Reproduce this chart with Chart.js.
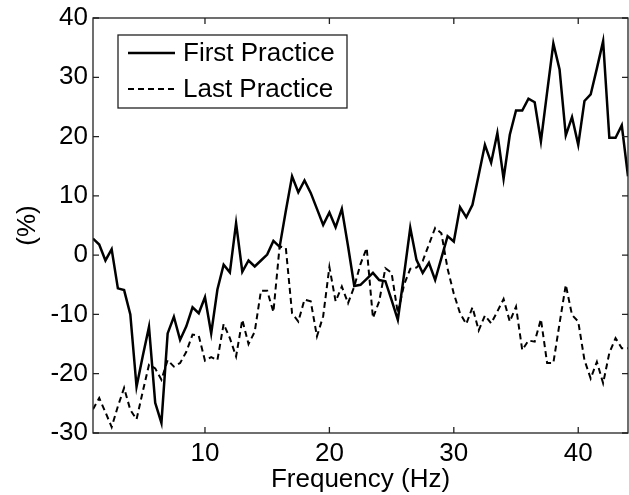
<!DOCTYPE html>
<html>
<head>
<meta charset="utf-8">
<script src="https://cdn.jsdelivr.net/npm/chart.js@4.4.0/dist/chart.umd.min.js"></script>
<style>
  html, body { margin: 0; padding: 0; background: #fff; }
  #wrap { width: 629px; height: 495px; }
</style>
</head>
<body>
<div id="wrap"><canvas id="freqChart" width="629" height="495"></canvas></div>
<script>
// ===== Data =====
const freq = [1, 1.5, 2, 2.5, 3, 3.5, 4, 4.5, 5, 5.5, 6, 6.5, 7, 7.5, 8, 8.5, 9, 9.5, 10, 10.5,
  11, 11.5, 12, 12.5, 13, 13.5, 14, 14.5, 15, 15.5, 16, 16.5, 17, 17.5, 18, 18.5, 19, 19.5, 20, 20.5,
  21, 21.5, 22, 22.5, 23, 23.5, 24, 24.5, 25, 25.5, 26, 26.5, 27, 27.5, 28, 28.5, 29, 29.5, 30, 30.5,
  31, 31.5, 32, 32.5, 33, 33.5, 34, 34.5, 35, 35.5, 36, 36.5, 37, 37.5, 38, 38.5, 39, 39.5, 40, 40.5,
  41, 41.5, 42, 42.5, 43, 43.5, 44];

const firstPractice = [2.8, 1.8, -0.9, 1.0, -5.6, -5.9, -10.0, -22.2, -17.0, -12.1, -24.9, -28.3, -13.2, -10.4, -14.3, -12.0, -8.8, -9.8, -7.1, -13.2,
  -5.8, -1.6, -2.9, 5.4, -2.8, -0.9, -1.9, -0.9, 0.1, 2.4, 1.4, 7.5, 13.3, 10.6, 12.6, 10.5, 7.8, 5.1, 7.2, 4.7,
  7.8, 1.5, -5.2, -5.0, -4.0, -3.0, -4.2, -4.4, -7.6, -10.9, -3.3, 4.6, -0.8, -3.0, -1.3, -4.2, -0.5, 3.2, 2.3, 8.1,
  6.4, 8.5, 13.5, 18.6, 15.6, 20.6, 12.9, 20.3, 24.4, 24.4, 26.4, 25.8, 19.2, 27.5, 35.7, 31.3, 20.2, 23.3, 18.6, 26.0,
  27.1, 31.5, 36.1, 19.8, 19.8, 21.9, 13.3];

const lastPractice = [-26.0, -24.1, -26.5, -29.0, -25.5, -22.4, -26.1, -27.7, -23.0, -18.5, -19.1, -21.0, -17.7, -18.8, -18.2, -16.3, -13.4, -13.6, -17.8, -17.2,
  -17.7, -11.6, -14.0, -17.1, -10.9, -15.0, -12.9, -6.0, -6.0, -9.6, 1.5, 1.2, -9.8, -11.2, -7.5, -7.8, -13.7, -10.3, -2.0, -7.8,
  -5.3, -8.1, -5.3, -1.5, 1.2, -10.6, -7.8, -2.2, -3.0, -9.8, -5.0, -2.3, -2.1, -1.0, 1.8, 4.6, 3.7, -2.3, -6.5, -9.8,
  -11.6, -8.8, -12.7, -10.2, -11.5, -9.5, -7.4, -11.2, -8.7, -16.0, -14.4, -14.6, -10.8, -18.2, -18.2, -11.5, -5.0, -10.1, -11.2, -17.7,
  -20.8, -18.0, -21.6, -16.5, -14.0, -15.7, -15.7];

const xTicks = [10, 20, 30, 40];
const seriesNames = ['First Practice', 'Last Practice'];

const FONT = '"Liberation Sans", Arial, sans-serif';
const FSIZE = 26;

// ===== Frame with inward ticks (MATLAB style) =====
const framePlugin = {
  id: 'frame',
  afterDraw(chart) {
    const { ctx, chartArea: a, scales } = chart;
    ctx.save();
    ctx.strokeStyle = '#222';
    ctx.lineWidth = 1.3;
    ctx.strokeRect(a.left, a.top, a.right - a.left, a.bottom - a.top);
    ctx.beginPath();
    xTicks.forEach(v => {
      const px = scales.x.getPixelForValue(v);
      ctx.moveTo(px, a.bottom); ctx.lineTo(px, a.bottom - 6);
      ctx.moveTo(px, a.top); ctx.lineTo(px, a.top + 6);
    });
    scales.y.ticks.forEach(t => {
      const py = scales.y.getPixelForValue(t.value);
      ctx.moveTo(a.left, py); ctx.lineTo(a.left + 6, py);
      ctx.moveTo(a.right, py); ctx.lineTo(a.right - 6, py);
    });
    ctx.stroke();
    ctx.restore();
  }
};

// ===== Legend box =====
const legendPlugin = {
  id: 'boxLegend',
  afterDraw(chart) {
    const { ctx } = chart;
    ctx.save();
    ctx.fillStyle = '#fff';
    ctx.fillRect(118, 35, 229, 73);
    ctx.strokeStyle = '#222';
    ctx.lineWidth = 1.3;
    ctx.strokeRect(118, 35, 229, 73);
    const rows = [{ y: 53, dash: [] }, { y: 89, dash: [6, 4] }];
    rows.forEach((r, i) => {
      ctx.beginPath();
      ctx.setLineDash(r.dash);
      ctx.lineWidth = i === 0 ? 2.5 : 2;
      ctx.strokeStyle = '#000';
      ctx.moveTo(128, r.y); ctx.lineTo(175, r.y);
      ctx.stroke();
      ctx.setLineDash([]);
      ctx.fillStyle = '#000';
      ctx.font = FSIZE + 'px ' + FONT;
      ctx.textBaseline = 'middle';
      ctx.fillText(seriesNames[i], 183, r.y + 1);
    });
    ctx.restore();
  }
};

const ctx = document.getElementById('freqChart').getContext('2d');
const chart = new Chart(ctx, {
  type: 'line',
  data: {
    labels: freq,
    datasets: [
      {
        label: seriesNames[0],
        data: freq.map((f, i) => ({ x: f, y: firstPractice[i] })),
        borderColor: '#000',
        borderWidth: 2.5,
        pointRadius: 0,
        tension: 0
      },
      {
        label: seriesNames[1],
        data: freq.map((f, i) => ({ x: f, y: lastPractice[i] })),
        borderColor: '#000',
        borderWidth: 2,
        borderDash: [6, 4],
        pointRadius: 0,
        tension: 0
      }
    ]
  },
  options: {
    responsive: false,
    animation: false,
    devicePixelRatio: 1,
    layout: { padding: { top: 18, right: 1, left: 0, bottom: 0 } },
    plugins: { legend: { display: false }, tooltip: { enabled: false } },
    scales: {
      x: {
        type: 'linear',
        min: 1, max: 44,
        afterBuildTicks: s => { s.ticks = xTicks.map(v => ({ value: v })); },
        afterFit: s => { s.height = 62; s.paddingLeft = 0; s.paddingRight = 0; },
        grid: { display: false, drawTicks: false },
        border: { display: false },
        ticks: { color: '#000', font: { family: FONT, size: FSIZE }, padding: 5, maxRotation: 0 },
        title: { display: true, text: 'Frequency (Hz)', color: '#000', font: { family: FONT, size: FSIZE }, padding: 0 }
      },
      y: {
        min: -30, max: 40,
        afterFit: s => { s.width = 93; s.paddingTop = 0; s.paddingBottom = 0; },
        grid: { display: false, drawTicks: false },
        border: { display: false },
        ticks: { stepSize: 10, color: '#000', font: { family: FONT, size: FSIZE }, padding: 5 },
        title: { display: true, text: '(%)', color: '#000', font: { family: FONT, size: FSIZE }, padding: { top: 12, bottom: 0 } }
      }
    }
  },
  plugins: [framePlugin, legendPlugin]
});
</script>
</body>
</html>
